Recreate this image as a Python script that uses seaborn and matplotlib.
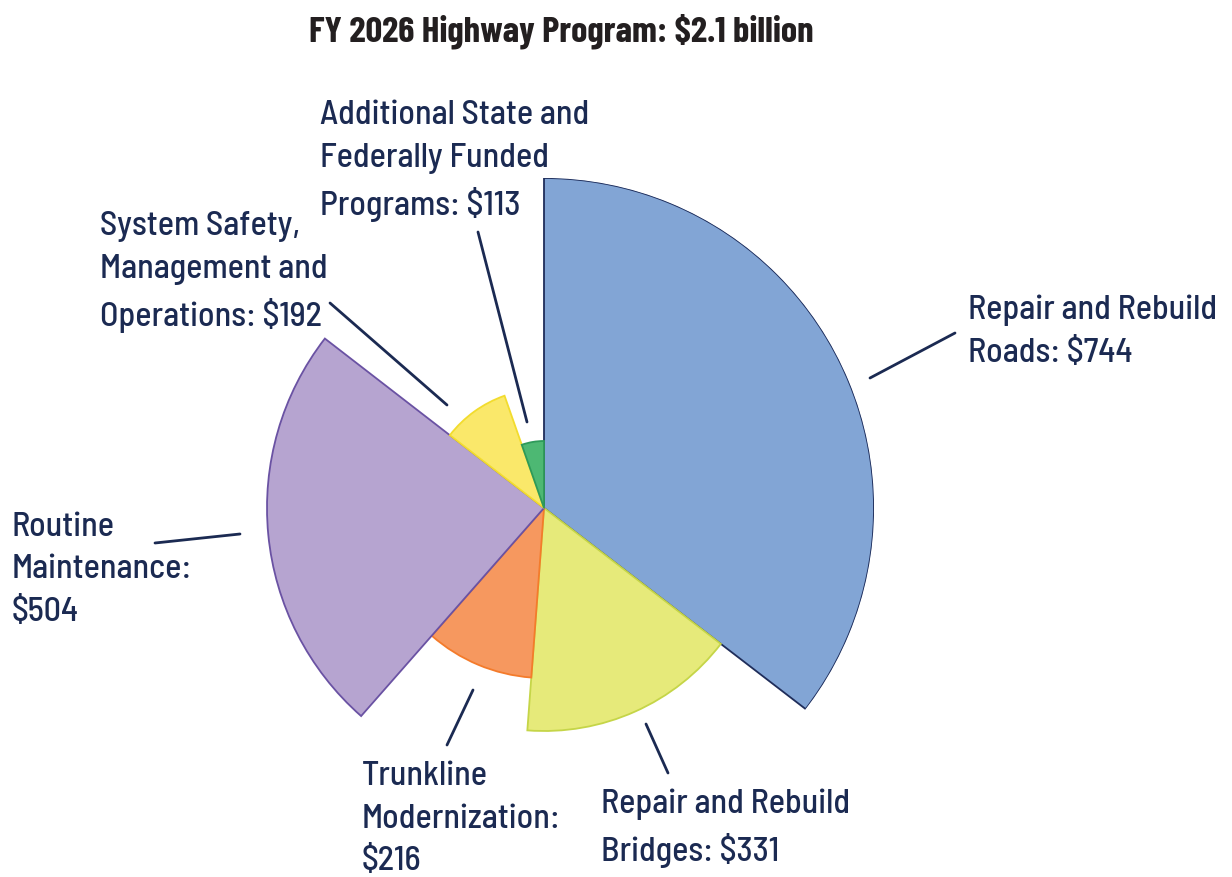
import numpy as np
import seaborn as sns
import matplotlib.pyplot as plt
from matplotlib.lines import Line2D

# FY 2026 highway program, $ millions
categories = ["Repair and Rebuild Roads", "Repair and Rebuild Bridges",
              "Trunkline Modernization", "Routine Maintenance",
              "System Safety, Management and Operations",
              "Additional State and Federally Funded Programs"]
amounts = [744, 331, 216, 504, 192, 113]
# slice length as drawn (relative)
reach = [330, 223, 170, 277, 119, 67]

labels = ["Repair and Rebuild\nRoads: $744",
          "Repair and Rebuild\nBridges: $331",
          "Trunkline\nModernization:\n$216",
          "Routine\nMaintenance:\n$504",
          "System Safety,\nManagement and\nOperations: $192",
          "Additional State and\nFederally Funded\nPrograms: $113"]

fills = ["#82A5D5", "#E6EA7A", "#F6985F", "#B6A4D0", "#FAE86A", "#4DB873"]
edges = ["#1F2D5A", "#C5D548", "#F47B2B", "#6A52A3", "#F2DC2E", "#2E9A5A"]

NAVY = "#1B2A52"
W, H = 1232, 877

sns.set_theme(style="white")
plt.rcParams['font.family'] = ['Barlow Semi Condensed', 'Roboto', 'DejaVu Sans']

fig = plt.figure(figsize=(W / 100, H / 100), dpi=100)

cx, cy, R = 544, 508, 330
ax = fig.add_axes([(cx - R) / W, (H - cy - R) / H, 2 * R / W, 2 * R / H],
                  projection="polar")
ax.set_theta_zero_location("N")
ax.set_theta_direction(-1)

widths = np.array(amounts) / sum(amounts) * 2 * np.pi
starts = np.concatenate([[0], np.cumsum(widths)[:-1]])
ax.bar(starts, reach, width=widths, bottom=0, align="edge",
       color=fills, edgecolor=edges, linewidth=1.3)
ax.set_ylim(0, R)
ax.set_axis_off()


def px(x, y):
    return x / W, 1 - y / H


# label blocks: (left x, centre y) in pixels
label_pos = [(968, 332), (601, 828), (362, 819), (12, 570), (100, 272), (320, 161)]
for txt, (x, y) in zip(labels, label_pos):
    fx, fy = px(x, y)
    fig.text(fx, fy, txt, ha="left", va="center", fontsize=24.5,
             fontweight=500, color=NAVY, linespacing=1.48)

leaders = [((870, 378), (955, 333)), ((646, 724), (668, 773)),
           ((473, 690), (447, 745)), ((240, 534), (155, 543)),
           ((447, 405), (330, 303)), ((527, 422), (478, 232))]
for (x0, y0), (x1, y1) in leaders:
    a, b = px(x0, y0)
    c, d = px(x1, y1)
    fig.add_artist(Line2D([a, c], [b, d], color=NAVY, lw=2))

fig.text(561 / W, 1 - 31 / H, "FY 2026 Highway Program: $2.1 billion",
         ha="center", va="center", fontsize=26.5, fontweight="bold",
         family=['Barlow Condensed', 'Roboto Condensed', 'DejaVu Sans'],
         color="#231F20")

fig.savefig("out.png", dpi=100, facecolor="white")
